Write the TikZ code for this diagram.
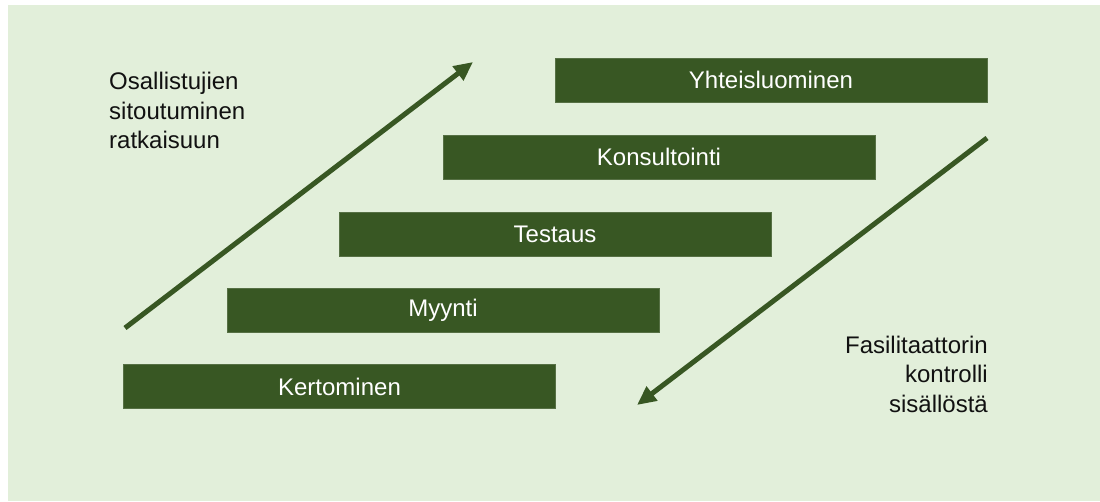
\documentclass[tikz,border=0pt]{standalone}
\usepackage{fontspec}
\setmainfont{Liberation Sans}
\usetikzlibrary{arrows.meta}
\definecolor{bgg}{HTML}{E2EFDA}
\definecolor{dkg}{HTML}{385723}
\definecolor{txt}{HTML}{111111}
\tikzset{
  bar/.style={fill=dkg, draw=dkg!85!white, line width=0.6pt, minimum width=432pt, minimum height=44pt, inner sep=0pt,
    text=white, font=\fontsize{24}{28}\selectfont},
  bigarrow/.style={draw=dkg, line width=5pt, -{Triangle[length=19pt,width=17pt]}},
  sidetext/.style={text=txt, inner sep=0pt, font=\fontsize{24}{29.5}\selectfont}
}
\begin{document}
\begin{tikzpicture}[x=1pt,y=-1pt]
\useasboundingbox (0,0) rectangle (1100,502);
\fill[bgg] (8,5) rectangle (1100,501);
\node[bar] (kert) at (339.5,386.5) {Kertominen};
\node[bar] (myyn) at (443,310) {Myynti};
\node[bar] (test) at (555,234) {Testaus};
\node[bar] (kons) at (659,157) {Konsultointi};
\node[bar] (yhte) at (771,80) {Yhteisluominen};
\coordinate (u1) at (125,328);
\coordinate (u2) at (473,62);
\coordinate (d1) at (987,138);
\coordinate (d2) at (637,405);
\draw[bigarrow] (u1) -- (u2);
\draw[bigarrow] (d1) -- (d2);
\node[sidetext, align=left, anchor=north west] (osal) at (109,72) {Osallistujien\\sitoutuminen\\ratkaisuun};
\node[sidetext, align=right, anchor=north east] (fasi) at (988,335.5) {Fasilitaattorin\\kontrolli\\sisällöstä};
\end{tikzpicture}
\end{document}
